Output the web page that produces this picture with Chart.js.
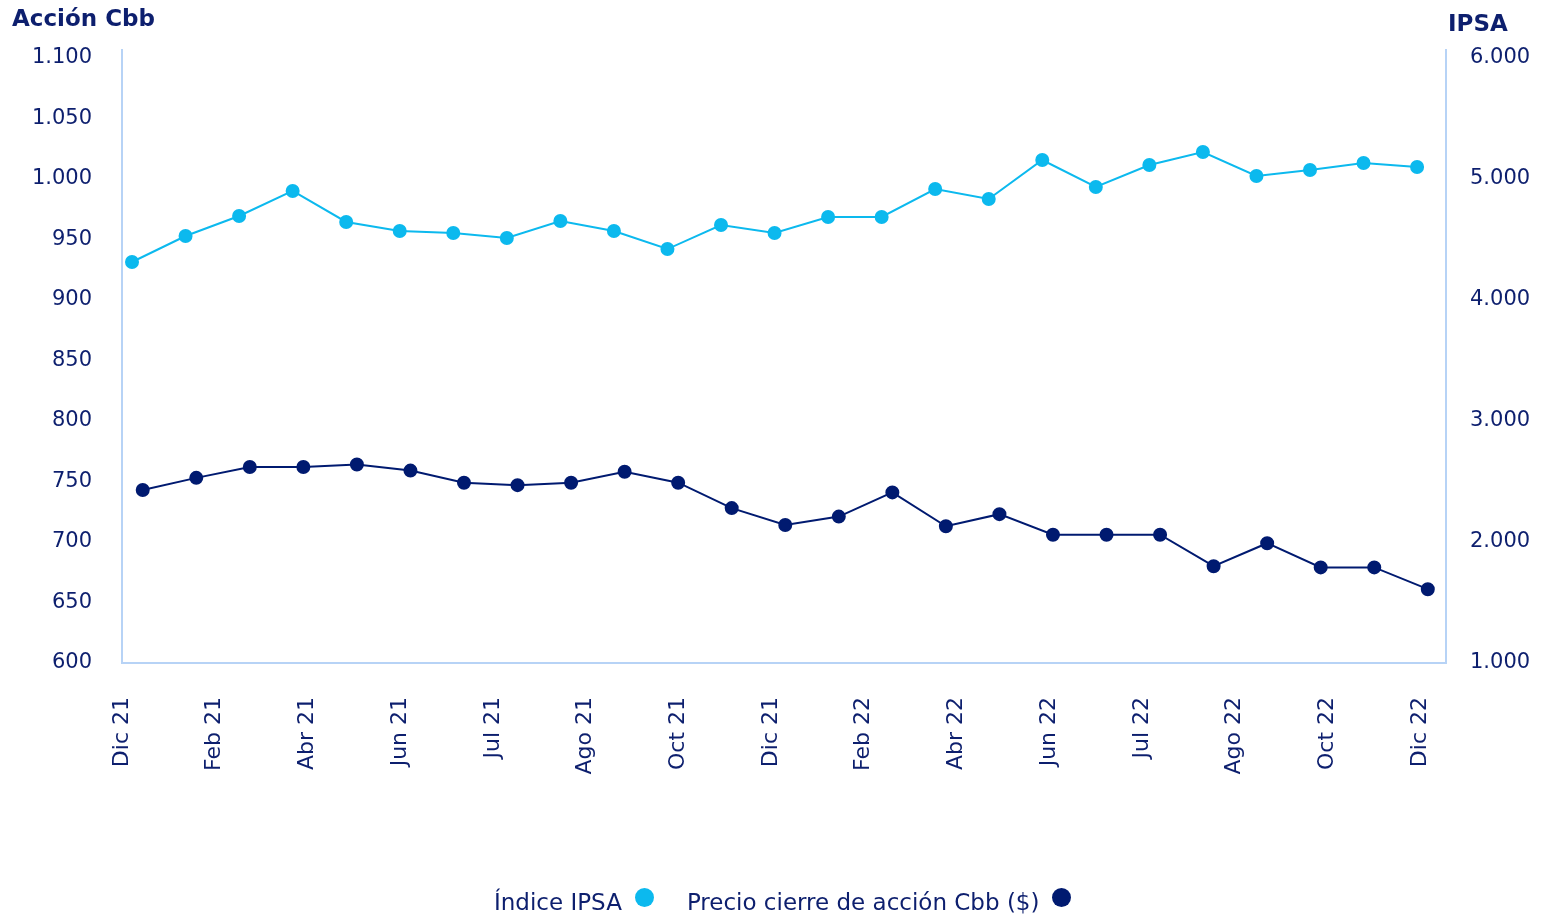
<!DOCTYPE html>
<html>
<head>
<meta charset="utf-8">
<script src="https://cdn.jsdelivr.net/npm/chart.js@4/dist/chart.umd.min.js"></script>
<style>
  body { margin: 0; background: #fff; font-family: "DejaVu Sans", sans-serif; color: #0d1f6e; }
  #wrap { position: relative; width: 1546px; height: 917px; }
  .ttl { position: absolute; font-weight: 700; font-size: 23px; color: #0d1f6e; }
  #legend { position: absolute; top: 889px; left: 494px; display: flex; font-size: 23px; white-space: nowrap; }
  .item { display: flex; align-items: center; margin-right: 33px; }
  .dot { width: 19px; height: 19px; border-radius: 50%; margin-left: 13px; margin-top: -10px; }
</style>
</head>
<body>
<div id="wrap">
  <canvas id="chart" width="1546" height="917"></canvas>
  <div class="ttl" style="left:12px; top:5px;">Acción Cbb</div>
  <div class="ttl" style="left:1448px; top:10px;">IPSA</div>
  <div id="legend"></div>
</div>
<script>
// ============================= data

const tickLabels = ['Dic 21', 'Feb 21', 'Abr 21', 'Jun 21', 'Jul 21', 'Ago 21', 'Oct 21', 'Dic 21',
    'Feb 22', 'Abr 22', 'Jun 22', 'Jul 22', 'Ago 22', 'Oct 22', 'Dic 22']

const leftTicks = [600, 650, 700, 750, 800, 850, 900, 950, 1000, 1050, 1100]
const rightTicks = [1000, 2000, 3000, 4000, 5000, 6000]

const ipsa = [4314, 4529, 4694, 4901, 4645, 4570, 4554, 4512, 4653, 4570, 4421, 4620, 4554,
    4686, 4686, 4917, 4835, 5157, 4934, 5116, 5223, 5025, 5074, 5132, 5099]

const precioCbb = [743, 753, 762, 762, 764, 759, 749, 747, 749, 758, 749, 728, 714,
    721, 741, 713, 723, 706, 706, 706, 680, 699, 679, 679, 661]

const LIGHT = '#0cb9ee'
const DARK = '#001a70'
const TEXT = '#0d1f6e'
const AXIS = '#b7d3f6'

// ============================= chart

const toPoints = (arr, shift) => arr.map((v, i) => ({ x: i + shift, y: v }))

const font = { family: '"DejaVu Sans", sans-serif', size: 22 }
const yFont = { family: '"DejaVu Sans", sans-serif', size: 21 }

new Chart(document.getElementById('chart'), {
    type: 'line',
    data: {
        datasets: [{
            label: 'Índice IPSA',
            data: toPoints(ipsa, 0),
            xAxisID: 'xd',
            yAxisID: 'yR',
            borderColor: LIGHT,
            backgroundColor: LIGHT,
            borderWidth: 2,
            pointRadius: 6,
            pointHoverRadius: 6,
            tension: 0
        }, {
            label: 'Precio cierre de acción Cbb ($)',
            data: toPoints(precioCbb, 0.2),
            xAxisID: 'xd',
            yAxisID: 'yL',
            borderColor: DARK,
            backgroundColor: DARK,
            borderWidth: 2,
            pointRadius: 6,
            pointHoverRadius: 6,
            tension: 0
        }]
    },
    options: {
        responsive: false,
        animation: false,
        layout: { padding: { top: 50, left: 0, right: 0, bottom: 0 } },
        plugins: { legend: { display: false }, tooltip: { enabled: false } },
        scales: {
            x: {
                type: 'linear',
                position: 'bottom',
                min: 0,
                max: 14.28,
                afterFit: (s) => { s.height = 254 },
                afterBuildTicks: (s) => { s.ticks = tickLabels.map((_, i) => ({ value: i })) },
                grid: { display: false, drawTicks: false },
                border: { color: AXIS, width: 2 },
                ticks: {
                    autoSkip: false,
                    minRotation: 90,
                    maxRotation: 90,
                    padding: 34,
                    color: TEXT,
                    font: font,
                    callback: (v) => tickLabels[v]
                }
            },
            xd: {
                type: 'linear',
                display: false,
                min: -0.187,
                max: 24.54
            },
            yL: {
                position: 'left',
                min: 600,
                max: 1106.6,
                afterFit: (s) => { s.width = 122 },
                afterBuildTicks: (s) => { s.ticks = leftTicks.map(v => ({ value: v })) },
                grid: { display: false, drawTicks: false },
                border: { color: AXIS, width: 2 },
                ticks: {
                    padding: 30,
                    color: TEXT,
                    font: yFont,
                    callback: (v) => v.toLocaleString('es-CL')
                }
            },
            yR: {
                position: 'right',
                min: 1000,
                max: 6066,
                afterFit: (s) => { s.width = 100 },
                afterBuildTicks: (s) => { s.ticks = rightTicks.map(v => ({ value: v })) },
                grid: { display: false, drawTicks: false },
                border: { color: AXIS, width: 2 },
                ticks: {
                    padding: 24,
                    color: TEXT,
                    font: yFont,
                    callback: (v) => v.toLocaleString('es-CL')
                }
            }
        }
    }
})

// ============================= legend

const legend = document.getElementById('legend')
;[['Índice IPSA', LIGHT], ['Precio cierre de acción Cbb ($)', DARK]].forEach(([txt, col]) => {
    const item = document.createElement('div')
    item.className = 'item'
    item.innerHTML = `<span>${txt}</span><span class="dot" style="background:${col}"></span>`
    legend.appendChild(item)
})
</script>
</body>
</html>
